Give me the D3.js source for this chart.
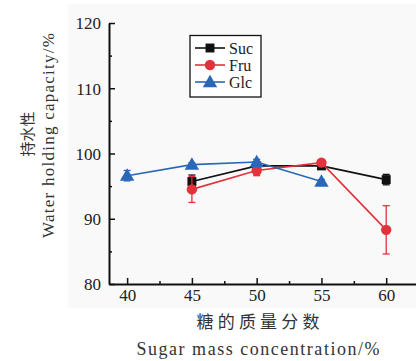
<!DOCTYPE html>
<html>
<head>
<meta charset="utf-8">
<script src="https://cdn.jsdelivr.net/npm/d3@7"></script>
<style>
  body { margin: 0; background: #fff; }
  svg { display: block; }
</style>
</head>
<body>
<svg id="chart"></svg>
<script>
// data
const series = ['Suc', 'Fru', 'Glc'];
const sucX = [45, 50, 55, 60];
const sucY = [95.7, 98.1, 98.1, 96.0];
const sucErr = [1.0, 0.4, 0.3, 0.8];
const fruX = [45, 50, 55, 60];
const fruY = [94.5, 97.4, 98.6, 88.3];
const fruErr = [2.0, 0.8, 0.4, 3.7];
const glcX = [40, 45, 50, 55];
const glcY = [96.6, 98.3, 98.7, 95.7];
const glcErr = [0.8, 0.3, 0.4, 0.3];
const xTicks = [40, 45, 50, 55, 60];
const xMinor = [42.5, 47.5, 52.5, 57.5];
const yTicks = [80, 90, 100, 110, 120];
const yMinor = [85, 95, 105, 115];

const width = 416, height = 361;
const serif = "'Liberation Serif', 'DejaVu Serif', serif";
const cjk = "'Noto Sans CJK SC', sans-serif";
const colors = { Suc: '#111111', Fru: '#e2323b', Glc: '#2b67b8' };
const symbols = { Suc: d3.symbolSquare, Fru: d3.symbolCircle, Glc: d3.symbolTriangle };
const symSize = { Suc: 80, Fru: 85, Glc: 90 };

const svg = d3.select('#chart').attr('width', width).attr('height', height);

// faint panel background like the scanned figure
svg.append('rect').attr('x', 68).attr('y', 4).attr('width', 348).attr('height', 304)
  .attr('fill', '#f9f9f9');

const x = d3.scaleLinear().domain([38.6, 62.3]).range([109, 416]);
const y = d3.scaleLinear().domain([80, 120]).range([284, 23]);

// axes
const xAxis = svg.append('g').attr('transform', 'translate(0,284)')
  .call(d3.axisBottom(x).tickValues(xTicks).tickSizeInner(-6).tickSizeOuter(0).tickPadding(5));
svg.append('g').attr('transform', 'translate(0,284)')
  .call(d3.axisBottom(x).tickValues(xMinor).tickSizeInner(-3).tickSizeOuter(0).tickFormat(''))
  .select('.domain').remove();
const yAxis = svg.append('g').attr('transform', 'translate(109,0)')
  .call(d3.axisLeft(y).tickValues(yTicks).tickSizeInner(-6).tickSizeOuter(0).tickPadding(8));
svg.append('g').attr('transform', 'translate(109,0)')
  .call(d3.axisLeft(y).tickValues(yMinor).tickSizeInner(-3).tickSizeOuter(0).tickFormat(''))
  .select('.domain').remove();

svg.selectAll('.domain').attr('stroke', '#111').attr('stroke-width', 2);
svg.selectAll('.tick line').attr('stroke', '#111').attr('stroke-width', 1.5);
svg.selectAll('g').attr('font-family', serif).attr('font-size', 17);
svg.selectAll('.tick text').attr('fill', '#222');
xAxis.selectAll('.tick text').attr('dy', '0.71em');
yAxis.selectAll('.tick text').attr('dy', '0.35em');

// series
const data = [
  { name: 'Suc', xs: sucX, ys: sucY, es: sucErr },
  { name: 'Fru', xs: fruX, ys: fruY, es: fruErr },
  { name: 'Glc', xs: glcX, ys: glcY, es: glcErr }
];

const line = d3.line().x(d => x(d.x)).y(d => y(d.y));

data.forEach(s => {
  const pts = s.xs.map((v, i) => ({ x: v, y: s.ys[i], e: s.es[i] }));
  const g = svg.append('g');
  g.append('path').datum(pts).attr('d', line)
    .attr('fill', 'none').attr('stroke', colors[s.name]).attr('stroke-width', 1.6);
  // error bars
  const eb = g.selectAll('.err').data(pts).enter().append('g');
  eb.append('line')
    .attr('x1', d => x(d.x)).attr('x2', d => x(d.x))
    .attr('y1', d => y(d.y - d.e)).attr('y2', d => y(d.y + d.e))
    .attr('stroke', colors[s.name]).attr('stroke-width', 1.3);
  [-1, 1].forEach(sgn => {
    eb.append('line')
      .attr('x1', d => x(d.x) - 3.5).attr('x2', d => x(d.x) + 3.5)
      .attr('y1', d => y(d.y + sgn * d.e)).attr('y2', d => y(d.y + sgn * d.e))
      .attr('stroke', colors[s.name]).attr('stroke-width', 1.3);
  });
  g.selectAll('.mk').data(pts).enter().append('path')
    .attr('d', d3.symbol().type(symbols[s.name]).size(symSize[s.name]))
    .attr('transform', d => `translate(${x(d.x)},${y(d.y) + (s.name === 'Glc' ? 1 : 0)})`)
    .attr('fill', colors[s.name]);
});

// legend
const lg = svg.append('g');
lg.append('rect').attr('x', 190).attr('y', 35.5).attr('width', 71).attr('height', 61.5)
  .attr('fill', '#fff').attr('stroke', '#111').attr('stroke-width', 1.3);
series.forEach((name, i) => {
  const cy = 48 + i * 17;
  lg.append('line').attr('x1', 195).attr('x2', 225).attr('y1', cy).attr('y2', cy)
    .attr('stroke', colors[name]).attr('stroke-width', 1.6);
  lg.append('path').attr('d', d3.symbol().type(symbols[name]).size(symSize[name]))
    .attr('transform', `translate(210,${cy + (name === 'Glc' ? 1 : 0)})`)
    .attr('fill', colors[name]);
  lg.append('text').attr('x', 229).attr('y', cy).attr('dy', '0.35em')
    .attr('font-family', serif).attr('font-size', 16).attr('fill', '#222').text(name);
});

// axis titles
svg.append('text').attr('x', 258).attr('y', 328)
  .attr('text-anchor', 'middle').attr('font-family', cjk).attr('font-size', 17).attr('fill', '#333')
  .attr('textLength', 123).attr('lengthAdjust', 'spacing').text('糖的质量分数');
svg.append('text').attr('x', 258).attr('y', 355)
  .attr('text-anchor', 'middle').attr('font-family', serif).attr('font-size', 18).attr('fill', '#333')
  .attr('textLength', 243).attr('lengthAdjust', 'spacing').text('Sugar mass concentration/%');

svg.append('text')
  .attr('transform', 'translate(33,134) rotate(-90)')
  .attr('text-anchor', 'middle').attr('font-family', cjk).attr('font-size', 15).attr('fill', '#333')
  .text('持水性');
svg.append('text')
  .attr('transform', 'translate(54,135.5) rotate(-90)')
  .attr('text-anchor', 'middle').attr('font-family', serif).attr('font-size', 17).attr('fill', '#333')
  .attr('textLength', 205).attr('lengthAdjust', 'spacing').text('Water holding capacity/%');
</script>
</body>
</html>
